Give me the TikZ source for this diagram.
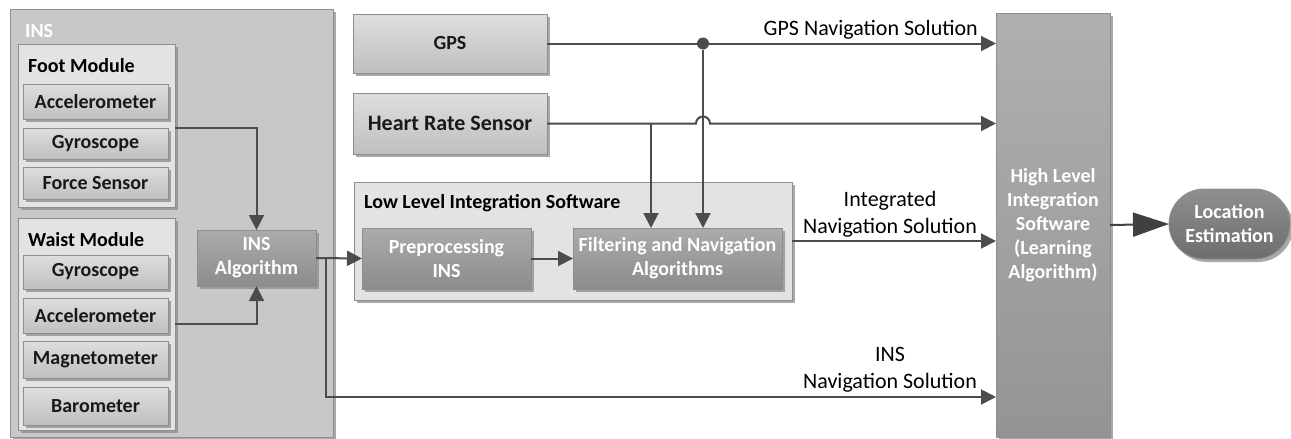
\documentclass[tikz,border=0pt]{standalone}
\usepackage{fontspec}
\setmainfont{Carlito}
\usepackage{tikz}
\usepackage{xcolor}
\usetikzlibrary{arrows.meta}
\usetikzlibrary{shadows}

\definecolor{linegray}{HTML}{4C4C4C}
\definecolor{edgegray}{HTML}{8E8E8E}
\definecolor{insfill}{HTML}{C8C8C8}
\definecolor{modfill}{HTML}{E3E3E3}

\tikzset{
  boxshadow/.style={drop shadow={shadow xshift=3pt,shadow yshift=-3pt,fill=black!45,opacity=0.75}},
  groupbox/.style={draw=edgegray,fill=#1,line width=0.8pt,inner sep=0pt,outer sep=0pt,boxshadow},
  sensorbox/.style={draw=edgegray,line width=0.8pt,top color=black!13,bottom color=black!25,
    text=black!90,font=\bfseries\fontsize{20}{24}\selectfont,inner sep=0pt,outer sep=0pt,
    minimum width=145pt,align=center,boxshadow},
  darkbox/.style={draw=edgegray,line width=0.8pt,top color=black!33,bottom color=black!45,
    text=white,font=\bfseries\fontsize{20}{24}\selectfont,inner sep=0pt,outer sep=0pt,
    align=center,boxshadow},
  titletext/.style={font=\bfseries\fontsize{20}{24}\selectfont,anchor=west,inner sep=0pt},
  lbl/.style={font=\fontsize{22}{27}\selectfont,align=center,inner sep=0pt},
  wire/.style={draw=linegray,line width=2pt},
  conn/.style={wire,-{Triangle[length=15pt,width=15pt]}},
  bigconn/.style={draw=black!75,line width=2pt,-{Triangle[length=36pt,width=24pt]}},
}

\begin{document}
\begin{tikzpicture}[x=1pt,y=-1pt]
            \useasboundingbox (0,0) rectangle (1291,439);

            % INS block
            \node[groupbox=insfill,minimum width=323pt,minimum height=428pt] (ins) at (171.5,223) {};
            \node[titletext,text=white] (inslbl) at (25,31) {INS};

            \node[groupbox=modfill,minimum width=157pt,minimum height=163pt] (foot) at (96.5,125.5) {};
            \node[titletext] (footlbl) at (28,66) {Foot Module};
            \node[sensorbox,minimum height=35pt] (facc) at (95.5,101.5) {Accelerometer};
            \node[sensorbox,minimum height=31pt] (fgyro) at (95.5,143.5) {Gyroscope};
            \node[sensorbox,minimum height=32pt] (fforce) at (95.5,183) {Force Sensor};

            \node[groupbox=modfill,minimum width=157pt,minimum height=212pt] (waist) at (96.5,324) {};
            \node[titletext] (waistlbl) at (28,240) {Waist Module};
            \node[sensorbox,minimum height=34pt] (wgyro) at (95.5,272) {Gyroscope};
            \node[sensorbox,minimum height=35pt] (wacc) at (95.5,315.5) {Accelerometer};
            \node[sensorbox,minimum height=37pt] (wmag) at (95.5,359.5) {Magnetometer};
            \node[sensorbox,minimum height=38pt] (wbaro) at (95.5,406) {Barometer};

            \node[darkbox,minimum width=119pt,minimum height=56pt] (insalg) at (256.5,258) {INS\\Algorithm};

            % sensors
            \node[sensorbox,minimum width=194pt,minimum height=59pt] (gps) at (450,43.5) {GPS};
            \node[sensorbox,font=\bfseries\fontsize{22}{26}\selectfont,minimum width=194pt,minimum height=61pt] (hr) at (450,123.5) {Heart Rate Sensor};

            % low level software
            \node[groupbox=modfill,minimum width=438pt,minimum height=118pt] (low) at (573,241) {};
            \node[titletext] (lowlbl) at (364,203) {Low Level Integration Software};
            \node[darkbox,minimum width=169pt,minimum height=61pt] (pre) at (446.5,258.5) {Preprocessing\\INS};
            \node[darkbox,minimum width=209pt,minimum height=61pt] (filt) at (677.5,258.5) {Filtering and Navigation\\Algorithms};

            % high level software
            \node[darkbox,top color=black!31,bottom color=black!42,minimum width=114pt,minimum height=424pt] (hl) at (1053,225) {High Level\\Integration\\Software\\(Learning\\Algorithm)};
            \node[darkbox,top color=black!44,bottom color=black!57,rounded corners=35pt,minimum width=121pt,minimum height=70pt] (loc) at (1229.5,224) {Location\\Estimation};

            % junctions
            \node[circle,fill=linegray,minimum size=12pt,inner sep=0pt] (gpsdot) at (703,43.5) {};
            \coordinate (hrsplit) at (651,123.5);
            \coordinate (inssplit) at (326,258);
            \coordinate (insrow) at (326,397);

            % connections
            \draw[conn] (fgyro.north -| foot.east) -| (insalg.north);
            \draw[conn] ([yshift=-8pt]wacc.east -| waist.east) -| (insalg.south);
            \draw[conn] (insalg.east) -- (pre.west);
            \draw[conn] (inssplit) -- (insrow) -- (hl.west |- insrow);
            \draw[conn] (pre.east) -- (filt.west);
            \draw[conn] (gps.east) -- (hl.west |- gps.east);
            \draw[conn] (gpsdot) -- (gpsdot |- filt.north);
            \draw[conn] (hr.east) -- ([xshift=-7pt]gpsdot |- hr.east) arc[start angle=180,end angle=0,radius=7pt] -- (hl.west |- hr.east);
            \draw[conn] (hrsplit) -- (hrsplit |- filt.north);
            \draw[conn] (low.east) -- (hl.west |- low.east);
            \draw[bigconn] (hl.east) -- (loc.west);

            \node[lbl,anchor=east] (gpssol) at (978,30) {GPS Navigation Solution};
            \node[lbl] (intsol) at (890,214) {Integrated\\Navigation Solution};
            \node[lbl] (inssol) at (890,370) {INS\\Navigation Solution};
\end{tikzpicture}
\end{document}
